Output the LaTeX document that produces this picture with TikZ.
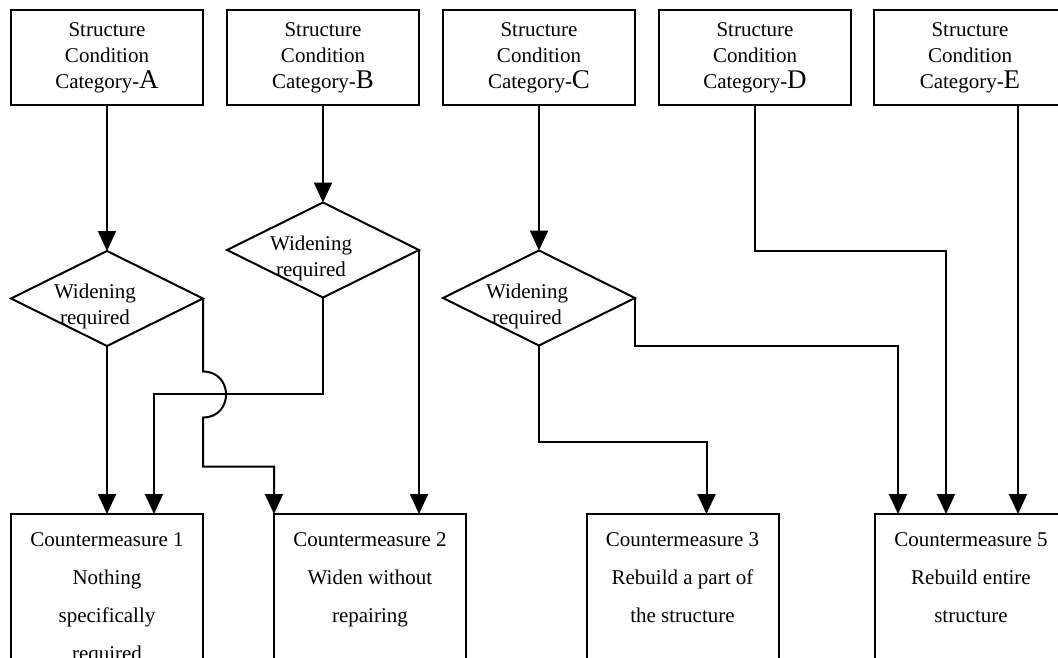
\documentclass[tikz,border=0pt]{standalone}
\usepackage{fontspec}
\setmainfont{Liberation Serif}
\usetikzlibrary{shapes.geometric,arrows.meta}
\newcommand\catletter[1]{{\fontsize{27}{26}\selectfont #1}}
\begin{document}
\begin{tikzpicture}[x=1pt,y=-1pt,
  every node/.style={inner sep=0pt, outer sep=0pt},
  conn/.style={line width=2pt, line join=miter},
  arr/.style={conn, -{Triangle[length=20pt,width=18pt]}},
  topbox/.style={draw, line width=2pt, minimum height=95pt, minimum width=192pt, align=center, font=\fontsize{21}{26}\selectfont},
  botbox/.style={draw, line width=2pt, minimum height=246pt, minimum width=192pt},
  bottext/.style={align=center, anchor=north, font=\fontsize{21}{38}\selectfont},
  dia/.style={draw, diamond, line width=2pt, minimum width=192pt, minimum height=95pt, aspect=2},
  diatext/.style={align=center, font=\fontsize{21}{26}\selectfont}]
\useasboundingbox (0,0) rectangle (1058,657);
\clip (0,0) rectangle (1058,657);

% top boxes
\node[topbox] (tA) at (107,57.5) {Structure\\Condition\\Category-\catletter{A}};
\node[topbox] (tB) at (323,57.5) {Structure\\Condition\\Category-\catletter{B}};
\node[topbox] (tC) at (539,57.5) {Structure\\Condition\\Category-\catletter{C}};
\node[topbox] (tD) at (755,57.5) {Structure\\Condition\\Category-\catletter{D}};
\node[topbox, minimum width=288pt] (tE) at (1018,57.5) {};
\node[align=center, font=\fontsize{21}{26}\selectfont] (tEtext) at (970,57.5) {Structure\\Condition\\Category-\catletter{E}};

% diamonds
\node[dia] (dA) at (107,298.5) {};
\node[dia] (dB) at (323,250) {};
\node[dia] (dC) at (539,298) {};
\node[diatext] (dAt) at ([xshift=-12pt,yshift=-8pt]dA.center) {Widening\\required};
\node[diatext] (dBt) at ([xshift=-12pt,yshift=-8pt]dB.center) {Widening\\required};
\node[diatext] (dCt) at ([xshift=-12pt,yshift=-8pt]dC.center) {Widening\\required};

% bottom boxes
\node[botbox] (b1) at (107,637) {};
\node[botbox] (b2) at (370,637) {};
\node[botbox] (b3) at (682.5,637) {};
\node[botbox] (b5) at (971,637) {};
\node[bottext] (b1t) at ([yshift=-19pt]b1.north) {Countermeasure 1\\Nothing\\specifically\\required};
\node[bottext] (b2t) at ([yshift=-19pt]b2.north) {Countermeasure 2\\Widen without\\repairing};
\node[bottext] (b3t) at ([yshift=-19pt]b3.north) {Countermeasure 3\\Rebuild a part of\\the structure};
\node[bottext] (b5t) at ([yshift=-19pt]b5.north) {Countermeasure 5\\Rebuild entire\\structure};

% arrow end points on box tops
\coordinate (p1b) at ([xshift=47pt]b1.north);
\coordinate (p3) at ([xshift=24pt]b3.north);
\coordinate (p5a) at ([xshift=23pt]b5.north west);
\coordinate (p5b) at ([xshift=71pt]b5.north west);
\coordinate (p5c) at ([xshift=143pt]b5.north west);
% line jump points
\coordinate (jA) at ([yshift=-73pt]dA.east);
\coordinate (jB) at ([yshift=-119pt]dA.east);

% connectors
\draw[arr] (tA.south) -- (dA.north);
\draw[arr] (tB.south) -- (dB.north);
\draw[arr] (tC.south) -- (dC.north);
\draw[arr] (tD.south) -- ++(0,146) -| (p5b);
\draw[arr] (tE.south) -- (p5c);

\draw[arr] (dA.south) -- (dA.south |- b1.north);
\draw[arr] (dA.east) -- (jA) .. controls ([xshift=30.7pt]jA) and ([xshift=30.7pt]jB) .. (jB)
  -- ++(0,49) -| (b2.north west);
\draw[arr] (dB.south) -- ++(0,96) -| (p1b);
\draw[arr] (dB.east) -- (dB.east |- b2.north);
\draw[arr] (dC.south) -- ++(0,96) -| (p3);
\draw[arr] (dC.east) -- ++(0,48) -| (p5a);
\end{tikzpicture}
\end{document}
